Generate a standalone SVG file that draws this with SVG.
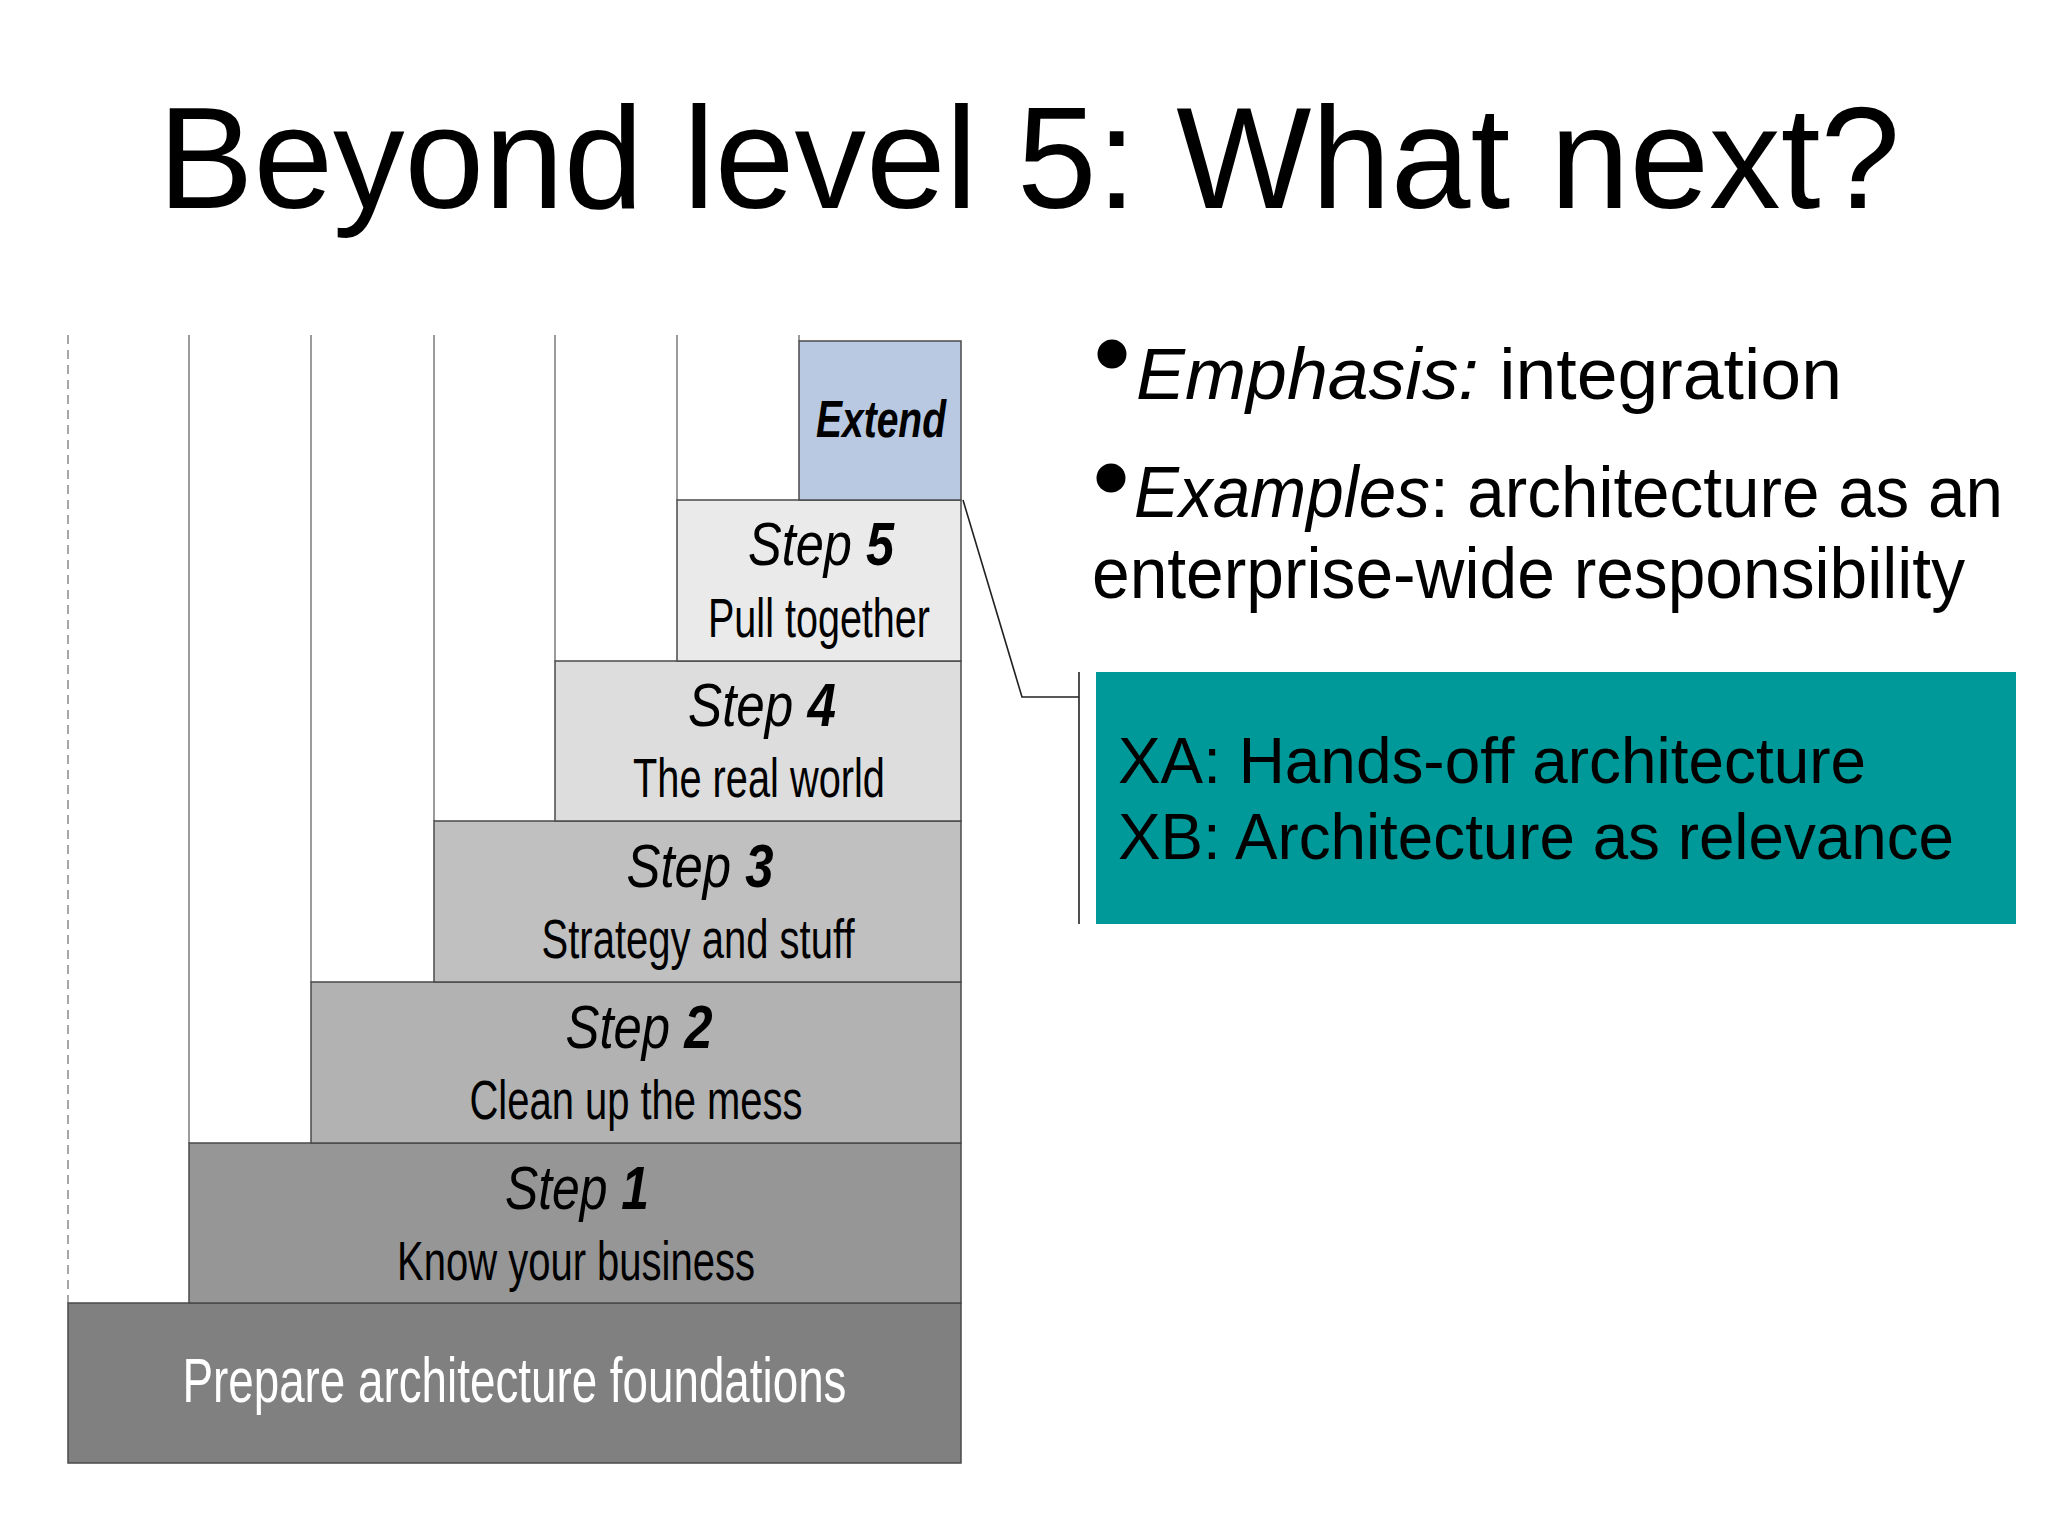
<svg xmlns="http://www.w3.org/2000/svg" width="2048" height="1536" viewBox="0 0 2048 1536">
<style>
.bg{fill:#ffffff}
.title{font-family:"Liberation Sans",Arial,sans-serif;font-size:145px;fill:#000}
.box{stroke:#4a4a4a;stroke-width:1.5}
.guide{stroke:#7a7a7a;stroke-width:1.5;fill:none}
.dash{stroke:#8a8a8a;stroke-width:1.5;stroke-dasharray:9 6;fill:none}
.nar{font-family:"Liberation Sans Narrow","Arial Narrow","Liberation Sans",Arial,sans-serif;font-size:55px;fill:#000;text-anchor:middle}
.stp{font-size:62px;font-style:italic}
.it{font-style:italic}
.bd{font-weight:bold}
.body{font-family:"Liberation Sans",Arial,sans-serif;font-size:72px;fill:#000}
.teal{font-family:"Liberation Sans",Arial,sans-serif;font-size:64px;fill:#000}
.conn{stroke:#222;stroke-width:1.6;fill:none}
</style>
<rect class="bg" x="0" y="0" width="2048" height="1536"/>
<g id="title">
<text class="title" x="158" y="208" textLength="1742" lengthAdjust="spacingAndGlyphs">Beyond level 5: What next?</text>
</g>
<g id="guides">
<line class="dash" x1="68" y1="335" x2="68" y2="1303"/>
<line class="guide" x1="189" y1="335" x2="189" y2="1143"/>
<line class="guide" x1="311" y1="335" x2="311" y2="982"/>
<line class="guide" x1="434" y1="335" x2="434" y2="821"/>
<line class="guide" x1="555" y1="335" x2="555" y2="661"/>
<line class="guide" x1="677" y1="335" x2="677" y2="500"/>
<line class="guide" x1="799" y1="335" x2="799" y2="341"/>
</g>
<g id="foundation">
<rect class="box" x="68" y="1303" width="893" height="160" fill="#808080"/>
<text class="nar" x="514.5" y="1402" style="fill:#fff;font-size:63px" textLength="664" lengthAdjust="spacingAndGlyphs">Prepare architecture foundations</text>
</g>
<g id="step1">
<rect class="box" x="189" y="1143" width="772" height="160" fill="#969696"/>
<text class="nar stp" x="577" y="1209" textLength="144" lengthAdjust="spacingAndGlyphs">Step <tspan class="bd">1</tspan></text>
<text class="nar" x="576" y="1280" textLength="358" lengthAdjust="spacingAndGlyphs">Know your business</text>
</g>
<g id="step2">
<rect class="box" x="311" y="982" width="650" height="161" fill="#b2b2b2"/>
<text class="nar stp" x="639" y="1048" textLength="147" lengthAdjust="spacingAndGlyphs">Step <tspan class="bd">2</tspan></text>
<text class="nar" x="636" y="1119" textLength="333" lengthAdjust="spacingAndGlyphs">Clean up the mess</text>
</g>
<g id="step3">
<rect class="box" x="434" y="821" width="527" height="161" fill="#c0c0c0"/>
<text class="nar stp" x="700" y="887" textLength="147" lengthAdjust="spacingAndGlyphs">Step <tspan class="bd">3</tspan></text>
<text class="nar" x="698" y="958" textLength="313" lengthAdjust="spacingAndGlyphs">Strategy and stuff</text>
</g>
<g id="step4">
<rect class="box" x="555" y="661" width="406" height="160" fill="#dddddd"/>
<text class="nar stp" x="762" y="726" textLength="148" lengthAdjust="spacingAndGlyphs">Step <tspan class="bd">4</tspan></text>
<text class="nar" x="759" y="797" textLength="252" lengthAdjust="spacingAndGlyphs">The real world</text>
</g>
<g id="step5">
<rect class="box" x="677" y="500" width="284" height="161" fill="#eaeaea"/>
<text class="nar stp" x="821" y="565" textLength="146" lengthAdjust="spacingAndGlyphs">Step <tspan class="bd">5</tspan></text>
<text class="nar" x="819" y="637" textLength="222" lengthAdjust="spacingAndGlyphs">Pull together</text>
</g>
<g id="extend">
<rect class="box" x="799" y="341" width="162" height="159" fill="#b8c9e1"/>
<text class="nar it bd" x="881" y="437" style="font-size:52px" textLength="130" lengthAdjust="spacingAndGlyphs">Extend</text>
</g>
<g id="connectors">
<polyline class="conn" points="963,500 1022,697 1079,697"/>
<line class="conn" x1="1079" y1="672" x2="1079" y2="924"/>
</g>
<g id="bullets">
<circle cx="1112" cy="354" r="14.5" fill="#000"/>
<text class="body" x="1136" y="399" textLength="706" lengthAdjust="spacingAndGlyphs"><tspan class="it">Emphasis:</tspan> integration</text>
<circle cx="1111" cy="478" r="14.5" fill="#000"/>
<text class="body" x="1134" y="517" textLength="869" lengthAdjust="spacingAndGlyphs"><tspan class="it">Examples</tspan>: architecture as an</text>
<text class="body" x="1092" y="598" textLength="873" lengthAdjust="spacingAndGlyphs">enterprise-wide responsibility</text>
</g>
<g id="xbox">
<rect x="1096" y="672" width="920" height="252" fill="#009999"/>
<text class="teal" x="1118" y="783" textLength="748" lengthAdjust="spacingAndGlyphs">XA: Hands-off architecture</text>
<text class="teal" x="1118" y="859" textLength="836" lengthAdjust="spacingAndGlyphs">XB: Architecture as relevance</text>
</g>
</svg>
